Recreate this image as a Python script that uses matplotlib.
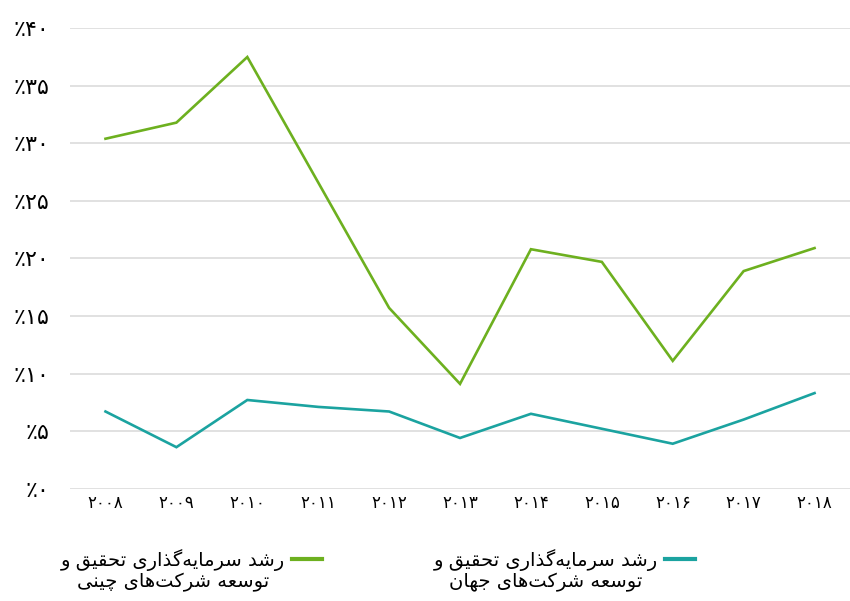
import matplotlib
matplotlib.use("Agg")
import matplotlib.pyplot as plt
from matplotlib.lines import Line2D

# ---------------- data ----------------
years = ["۲۰۰۸", "۲۰۰۹", "۲۰۱۰", "۲۰۱۱", "۲۰۱۲", "۲۰۱۳",
         "۲۰۱۴", "۲۰۱۵", "۲۰۱۶", "۲۰۱۷", "۲۰۱۸"]
china = [30.4, 31.8, 37.5, 26.6, 15.7, 9.1, 20.8, 19.7, 11.1, 18.9, 20.9]
world = [6.7, 3.6, 7.7, 7.1, 6.7, 4.4, 6.5, 5.2, 3.9, 6.0, 8.3]
ytick_values = [0, 5, 10, 15, 20, 25, 30, 35, 40]
ytick_labels = ["٪۰", "٪۵", "٪۱۰", "٪۱۵", "٪۲۰", "٪۲۵", "٪۳۰", "٪۳۵", "٪۴۰"]
label_china = "رشد سرمایه‌گذاری تحقیق و\nتوسعه شرکت‌های چینی"
label_world = "رشد سرمایه‌گذاری تحقیق و\nتوسعه شرکت‌های جهان"

GREEN = "#6db01f"
TEAL = "#1ba3a0"

# ---------------- minimal Persian shaping ----------------
FORMS = {
    "ا": ("\uFE8D", "\uFE8E"), "د": ("\uFEA9", "\uFEAA"), "ذ": ("\uFEAB", "\uFEAC"),
    "ر": ("\uFEAD", "\uFEAE"), "و": ("\uFEED", "\uFEEE"),
    "ت": ("\uFE95", "\uFE96", "\uFE97", "\uFE98"),
    "ج": ("\uFE9D", "\uFE9E", "\uFE9F", "\uFEA0"),
    "ح": ("\uFEA1", "\uFEA2", "\uFEA3", "\uFEA4"),
    "س": ("\uFEB1", "\uFEB2", "\uFEB3", "\uFEB4"),
    "ش": ("\uFEB5", "\uFEB6", "\uFEB7", "\uFEB8"),
    "ع": ("\uFEC9", "\uFECA", "\uFECB", "\uFECC"),
    "ق": ("\uFED5", "\uFED6", "\uFED7", "\uFED8"),
    "م": ("\uFEE1", "\uFEE2", "\uFEE3", "\uFEE4"),
    "ن": ("\uFEE5", "\uFEE6", "\uFEE7", "\uFEE8"),
    "ه": ("\uFEE9", "\uFEEA", "\uFEEB", "\uFEEC"),
    "ی": ("\uFBFC", "\uFBFD", "\uFBFE", "\uFBFF"),
    "گ": ("\uFB92", "\uFB93", "\uFB94", "\uFB95"),
    "ک": ("\uFB8E", "\uFB8F", "\uFB90", "\uFB91"),
    "چ": ("\uFB7A", "\uFB7B", "\uFB7C", "\uFB7D"),
}


def _dual(c):
    return c in FORMS and len(FORMS[c]) == 4


def _joins(c):
    return c in FORMS


def shape_line(s):
    out = []
    n = len(s)
    for i, c in enumerate(s):
        if c not in FORMS:
            if c != "\u200c":
                out.append(c)
            continue
        prev = s[i - 1] if i > 0 else ""
        nxt = s[i + 1] if i + 1 < n else ""
        jp = _dual(prev)
        jn = _dual(c) and _joins(nxt)
        f = FORMS[c]
        if jp and jn:
            out.append(f[3])
        elif jp:
            out.append(f[1])
        elif jn:
            out.append(f[2])
        else:
            out.append(f[0])
    return "".join(out)[::-1]


def shape(s):
    return "\n".join(shape_line(l) for l in s.split("\n"))


plt.rcParams["font.family"] = ["DejaVu Sans"]

# ---------------- figure ----------------
fig = plt.figure(figsize=(8.5, 6.01), dpi=100)
ax = fig.add_axes([0.0824, 0.187, 0.9176, 0.766])

x = list(range(len(years)))
l1, = ax.plot(x, china, color=GREEN, lw=1.9, solid_joinstyle="miter")
l2, = ax.plot(x, world, color=TEAL, lw=1.9, solid_joinstyle="miter")

ax.set_xlim(-0.5, 10.5)
ax.set_ylim(0, 40)
ax.set_yticks(ytick_values)
ax.set_yticklabels(ytick_labels, fontsize=16)
ax.set_xticks(x)
ax.set_xticklabels(years, fontsize=12)
ax.tick_params(axis="y", length=0, pad=15)
ax.tick_params(axis="x", length=0, pad=4)
for sp in ax.spines.values():
    sp.set_visible(False)
ax.grid(axis="y", color="#dedede", lw=1.3)
ax.set_axisbelow(True)

# ---------------- legend (RTL: handle on the right) ----------------
W, H = 850, 601


def fx(px):
    return px / W


def fy(py):
    return 1 - py / H


for line, label, x0, x1, tx in [
    (l1, label_china, 292, 322, 173),
    (l2, label_world, 665, 695, 546),
]:
    fig.add_artist(Line2D([fx(x0), fx(x1)], [fy(559), fy(559)],
                          transform=fig.transFigure,
                          color=line.get_color(), lw=3))
    fig.text(fx(tx), fy(549), shape(label), ha="center", va="top",
             multialignment="center", fontsize=14, linespacing=1.1)

fig.savefig("out.png", dpi=100)
